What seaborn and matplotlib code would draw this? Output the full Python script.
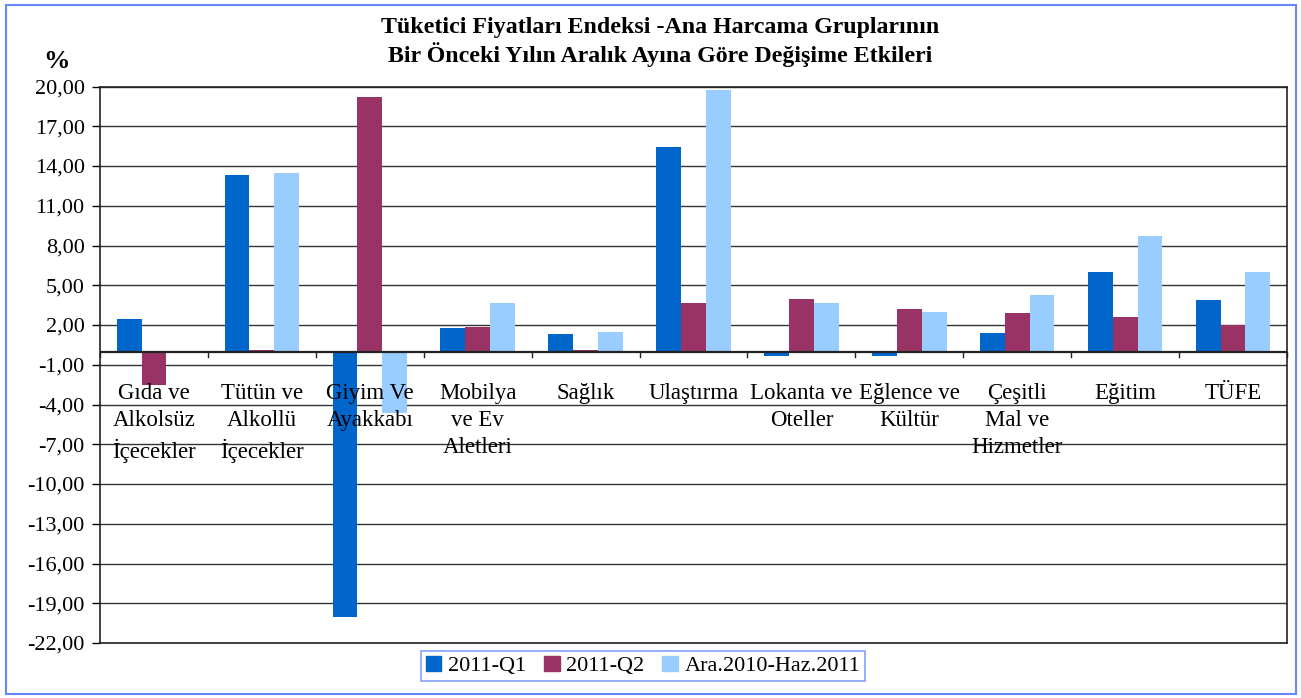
import numpy as np
import pandas as pd
import seaborn as sns
import matplotlib.pyplot as plt
from matplotlib.patches import Rectangle

categories = ['Gıda ve\nAlkolsüz\nİçecekler', 'Tütün ve\nAlkollü\nİçecekler', 'Giyim Ve\nAyakkabı',
              'Mobilya\nve Ev\nAletleri', 'Sağlık', 'Ulaştırma', 'Lokanta ve\nOteller',
              'Eğlence ve\nKültür', 'Çeşitli\nMal ve\nHizmetler', 'Eğitim', 'TÜFE']
series = ['2011-Q1', '2011-Q2', 'Ara.2010-Haz.2011']
q1 = [2.42, 13.33, -20.05, 1.74, 1.29, 15.40, -0.35, -0.35, 1.36, 5.98, 3.86]
q2 = [-2.55, 0.08, 19.17, 1.82, 0.15, 3.64, 3.94, 3.18, 2.88, 2.58, 1.97]
ara = [-0.10, 13.48, -4.67, 3.64, 1.44, 19.70, 3.64, 2.95, 4.24, 8.71, 5.98]
yticks = list(range(-22, 21, 3))
colors = ['#0066CC', '#993366', '#99CCFF']

df = pd.DataFrame({
    'cat': categories * 3,
    'series': [s for s in series for _ in categories],
    'val': q1 + q2 + ara,
})

plt.rcParams['font.family'] = ['Liberation Serif', 'DejaVu Serif']
fig = plt.figure(figsize=(13.01, 6.98), dpi=100)
ax = fig.add_axes([100 / 1301, 1 - 643 / 698, 1187 / 1301, 556.5 / 698])

sns.barplot(data=df, x='cat', y='val', hue='series', palette=colors, width=0.69,
            gap=0, ax=ax, saturation=1, legend=False)

ax.set_xlim(-0.5, 10.5)
ax.set_ylim(-22, 20)
ax.set_yticks(yticks)
ax.set_yticklabels([f'{t:.2f}'.replace('.', ',') for t in yticks], fontsize=16)
ax.tick_params(axis='y', length=6, width=1, color='black', pad=5)
ax.set_xticks([])
ax.set_xlabel('')
ax.set_ylabel('')
for t in yticks:
    ax.axhline(t, color='#333333', lw=1, zorder=0)
ax.axhline(0, color='#222222', lw=1.6, zorder=3)
for s in ax.spines.values():
    s.set_color('#222222')
    s.set_linewidth(1.2)

# category boundary ticks at zero line
for b in np.arange(-0.5, 11, 1):
    ax.plot([b, b], [0, -0.45], color='#222222', lw=1, zorder=3, clip_on=False)

for i, c in enumerate(categories):
    ax.text(i, -2.4, c, ha='center', va='top', fontsize=16.5, linespacing=1.38, zorder=4)

fig.text(660 / 1301, 1 - 42 / 698, 'Tüketici Fiyatları Endeksi -Ana Harcama Gruplarının\nBir Önceki Yılın Aralık Ayına Göre Değişime Etkileri',
         ha='center', va='center', fontsize=17.2, fontweight='bold', linespacing=1.25)
fig.text(57 / 1301, 1 - 61 / 698, '%', ha='center', va='center', fontsize=19, fontweight='bold')

handles = [Rectangle((0, 0), 1, 1, color=c) for c in colors]
leg = fig.legend(handles, series, loc='center', bbox_to_anchor=(643 / 1301, 1 - 666 / 698),
                 ncol=3, fontsize=16, frameon=True, fancybox=False, handlelength=0.7,
                 handleheight=0.7, handletextpad=0.3, columnspacing=0.8, borderpad=0.2)
leg.get_frame().set_edgecolor('#6688FF')
leg.get_frame().set_linewidth(1.2)

fig.patches.append(Rectangle((6 / 1301, 4 / 698), 1290 / 1301, 689 / 698, transform=fig.transFigure,
                             fill=False, edgecolor='#6688FF', lw=1.5))

fig.savefig('out.png', dpi=100)
